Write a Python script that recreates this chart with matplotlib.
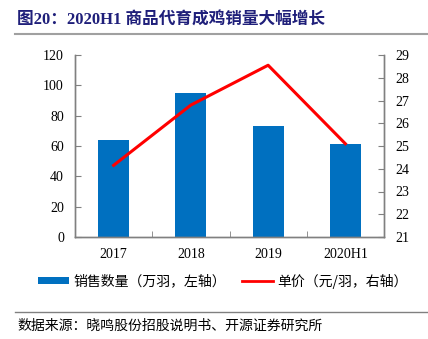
import numpy as np
import matplotlib
matplotlib.use("Agg")
import matplotlib.pyplot as plt
from matplotlib.lines import Line2D
from matplotlib.patches import Patch

plt.rcParams['font.family'] = ['Liberation Serif', 'Noto Sans CJK SC']

# --- data ---
categories = ["2017", "2018", "2019", "2020H1"]
sales_volume = [64, 95, 73, 61]          # 万羽, left axis
unit_price = [24.15, 26.8, 28.55, 25.1]  # 元/羽, right axis

title_text = "图20：2020H1 商品代育成鸡销量大幅增长"
legend_bar = "销售数量（万羽，左轴）"
legend_line = "单价（元/羽，右轴）"
source_text = "数据来源：晓鸣股份招股说明书、开源证券研究所"

BAR_COLOR = "#0070C0"
LINE_COLOR = "#FF0000"
SPINE_COLOR = "#808080"

fig = plt.figure(figsize=(4.28, 3.39), dpi=100)
W, H = 428, 339

# axes box in pixel coords: left 75, right 384, top 55, bottom 237
ax = fig.add_axes([75 / W, 1 - 237 / H, (384 - 75) / W, (237 - 55) / H])
x = np.arange(len(categories))
ax.bar(x, sales_volume, width=0.4, color=BAR_COLOR, zorder=2)
ax.set_xlim(-0.5, len(categories) - 0.5)
ax.set_ylim(0, 120)
ax.set_yticks(range(0, 121, 20))

ax2 = ax.twinx()
ax2.plot(x, unit_price, color=LINE_COLOR, lw=2.2, zorder=3)
ax2.set_ylim(21, 29)
ax2.set_yticks(range(21, 30))

# category labels centred, tick marks between categories
ax.set_xticks(x)
ax.set_xticklabels(categories, fontsize=10)
ax.tick_params(axis='x', length=0, pad=8)
ax.set_xticks(np.arange(0.5, len(categories) - 0.5, 1), minor=True)
ax.tick_params(axis='x', which='minor', direction='in', length=4, color=SPINE_COLOR)

ax.tick_params(axis='y', direction='in', length=4, color=SPINE_COLOR, labelsize=10, pad=8)
ax2.tick_params(axis='y', direction='in', length=4, color=SPINE_COLOR, labelsize=10, pad=8)

for a in (ax, ax2):
    a.spines['top'].set_visible(False)
    for s in ('left', 'right', 'bottom'):
        a.spines[s].set_color(SPINE_COLOR)
        a.spines[s].set_linewidth(1)

# title and rule
fig.text(17 / W, 1 - 20 / H, title_text, fontsize=12, fontweight='bold',
         color="#1F1F7A", va='center', ha='left')
fig.add_artist(Line2D([15 / W, 1], [1 - 34 / H] * 2, color="#A0A0A0", lw=1.5))

# legend
handles = [Patch(facecolor=BAR_COLOR, edgecolor='none'),
           Line2D([0], [0], color=LINE_COLOR, lw=2)]
fig.legend(handles, [legend_bar, legend_line], loc='center',
           bbox_to_anchor=(223 / W, 1 - 281 / H), ncol=2, frameon=False,
           prop={'family': ['Noto Sans CJK SC'], 'size': 10},
           handlelength=2.2, handleheight=0.45, columnspacing=1.2,
           handletextpad=0.3, borderpad=0, borderaxespad=0)

# source rule and text
fig.add_artist(Line2D([15 / W, 1], [1 - 312 / H] * 2, color="#808080", lw=1))
fig.text(17 / W, 1 - 326 / H, source_text, fontsize=10,
         family=['Noto Sans CJK SC'], va='center', ha='left')

fig.savefig("out.png", dpi=100)
